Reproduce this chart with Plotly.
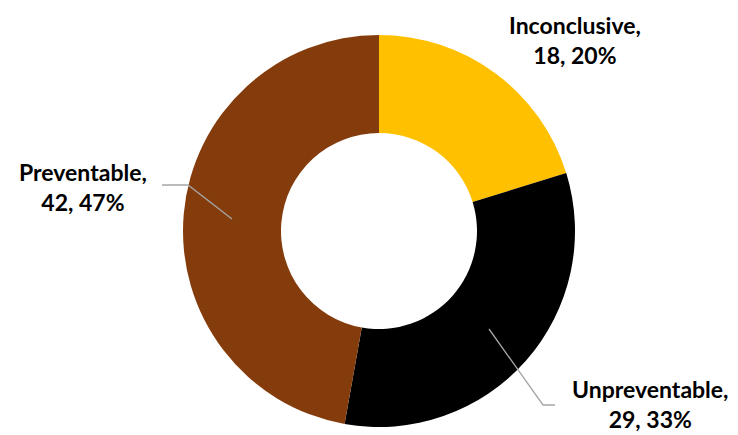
import plotly.graph_objects as go

categories = ["Inconclusive", "Unpreventable", "Preventable"]
values = [18, 29, 42]
colors = ["#FFC000", "#000000", "#843C0C"]
percent_labels = ["20%", "33%", "47%"]

W, H = 738, 435

fig = go.Figure(go.Pie(
    labels=categories,
    values=values,
    hole=0.5,
    sort=False,
    direction="clockwise",
    rotation=0,
    marker=dict(colors=colors, line=dict(width=0)),
    textinfo="none",
    hoverinfo="label+value+percent",
    domain=dict(x=[181 / W, 577 / W], y=[1 - 427 / H, 1 - 35 / H]),
    showlegend=False,
))

font = dict(family="Lato, 'Open Sans', sans-serif", size=23, color="#000000")

label_pos = {
    "Inconclusive": (575, 40),
    "Unpreventable": (650, 404),
    "Preventable": (83, 187),
}
for cat, val, pct in zip(categories, values, percent_labels):
    x, y = label_pos[cat]
    fig.add_annotation(
        x=x / W, y=1 - y / H, xref="paper", yref="paper",
        text=f"<b>{cat},<br>{val}, {pct}</b>",
        showarrow=False, font=font, align="center",
        xanchor="center", yanchor="middle",
    )

def px(x, y):
    return f"{x / W},{1 - y / H}"

leader = dict(color="#A6A6A6", width=1.3)
fig.add_shape(type="path", xref="paper", yref="paper",
              path=f"M {px(232, 219)} L {px(188, 185)} L {px(162, 185)}",
              line=leader)
fig.add_shape(type="path", xref="paper", yref="paper",
              path=f"M {px(489, 329)} L {px(543, 405)} L {px(555, 405)}",
              line=leader)

fig.update_layout(
    width=W, height=H,
    margin=dict(l=0, r=0, t=0, b=0),
    paper_bgcolor="#FFFFFF",
    plot_bgcolor="#FFFFFF",
)

fig.write_html("out.html", config={"displayModeBar": False},
               post_script="document.body.style.margin='0';")
